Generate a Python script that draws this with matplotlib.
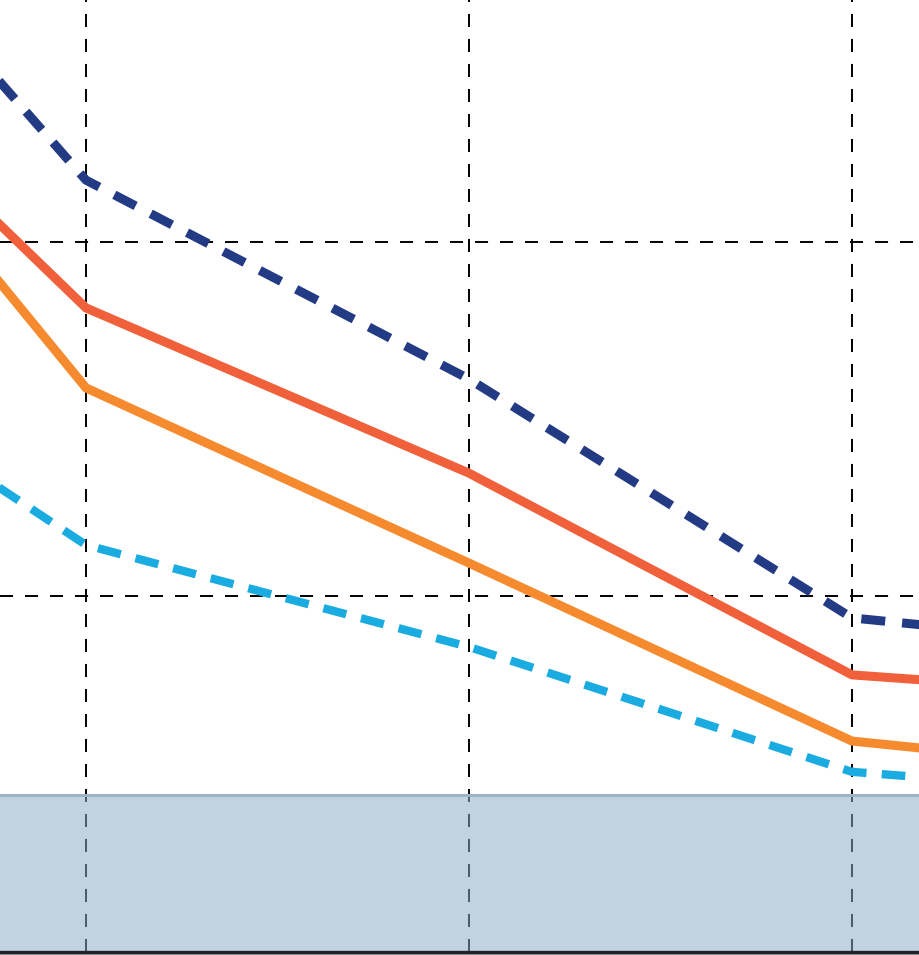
import numpy as np
import matplotlib
matplotlib.use("Agg")
import matplotlib.pyplot as plt

plt.rcParams["lines.scale_dashes"] = False

# ---- Data (x = category index) ----
x_idx = [0, 1, 2, 3, 4]
navy_dash   = [44.1, 31.75, 26.13, 19.38, 18.3]
red_solid   = [38.6, 28.14, 23.47, 17.77, 17.0]
orange_solid = [39.1, 25.88, 20.93, 15.90, 14.8]
blue_dash   = [28.6, 21.44, 18.56, 15.03, 14.2]
band_top = 14.38
grid_y = [20, 30]
grid_x = [1, 2, 3]

# ---- Figure ----
fig = plt.figure(figsize=(9.2, 9.55), dpi=100, facecolor="#a3a3a3")
ax = fig.add_axes([0, 3 / 955, 1, 952 / 955])
ax.set_facecolor("white")

ax.set_xlim(0.7755, 3.1775)
ax.set_ylim(9.94, 36.84)

# grid
for gx in grid_x:
    ax.axvline(gx, color="black", lw=1.4, linestyle=(0, (9.4, 8.6)), zorder=0.5)
for gy in grid_y:
    ax.axhline(gy, color="black", lw=1.4, linestyle=(0, (9.4, 8.6)), zorder=0.5)

# shaded band
ax.axhspan(ax.get_ylim()[0], band_top, color="#8dabc6", alpha=0.525, lw=0, zorder=1)
ax.axhline(band_top, color="#9cb4c3", lw=2.2, zorder=1.1)

# series
ax.plot(x_idx, navy_dash, color="#233a84", lw=6.5, dashes=(17.3, 12.2),
        dash_capstyle="butt", zorder=3)
ax.plot(x_idx, red_solid, color="#f0603a", lw=6.5, solid_joinstyle="miter", zorder=3)
ax.plot(x_idx, orange_solid, color="#f58a2e", lw=6.5, solid_joinstyle="miter", zorder=3)
ax.plot(x_idx, blue_dash, color="#1aace0", lw=6.0, dashes=(17.0, 11.0),
        dash_capstyle="butt", zorder=3)

for side in ["top", "left", "right"]:
    ax.spines[side].set_visible(False)
ax.spines["bottom"].set_color("#1e2226")
ax.spines["bottom"].set_linewidth(2.4)
ax.set_xticks([])
ax.set_yticks([])

fig.savefig("out.png", dpi=100, facecolor=fig.get_facecolor())
